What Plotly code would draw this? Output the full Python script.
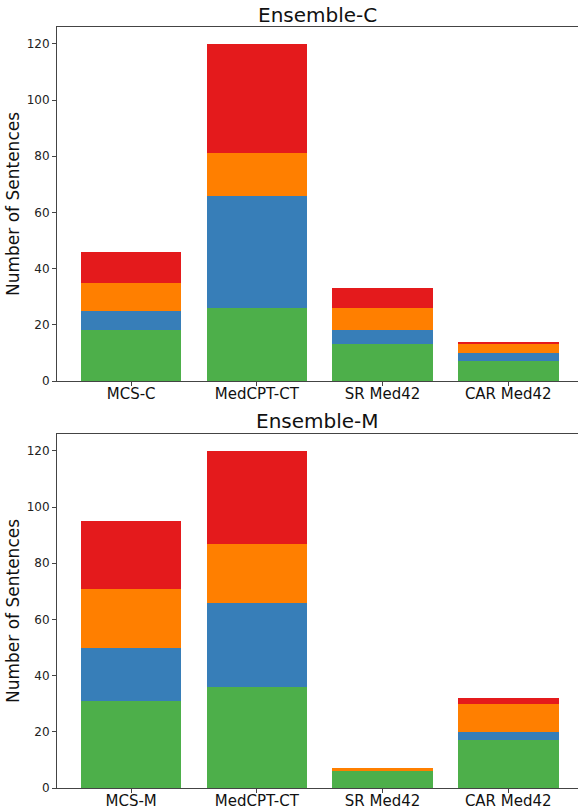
import plotly.graph_objects as go

categories_c = ["MCS-C", "MedCPT-CT", "SR Med42", "CAR Med42"]
categories_m = ["MCS-M", "MedCPT-CT", "SR Med42", "CAR Med42"]

# Ensemble-C segments (bottom to top)
green_c = [18, 26, 13, 7]
blue_c = [7, 40, 5, 3]
orange_c = [10, 15, 8, 3]
red_c = [11, 39, 7, 1]

# Ensemble-M segments (bottom to top)
green_m = [31, 36, 6, 17]
blue_m = [19, 30, 0, 3]
orange_m = [21, 21, 1, 10]
red_m = [24, 33, 0, 2]

y_ticks = [0, 20, 40, 60, 80, 100, 120]

colors = {"green": "#4daf4a", "blue": "#377eb8", "orange": "#ff7f00", "red": "#e41a1c"}

fig = go.Figure()

def add_stack(cats, series, xa, ya):
    xs = list(range(len(cats)))
    for name, vals in series:
        fig.add_trace(go.Bar(
            x=xs, y=vals, name=name, xaxis=xa, yaxis=ya,
            marker=dict(color=colors[name], line=dict(width=0)),
            width=0.8, showlegend=False,
        ))

add_stack(categories_c, [("green", green_c), ("blue", blue_c), ("orange", orange_c), ("red", red_c)], "x", "y")
add_stack(categories_m, [("green", green_m), ("blue", blue_m), ("orange", orange_m), ("red", red_m)], "x2", "y2")

H = 807
font = "DejaVu Sans"
axis_common_x = dict(
    range=[-0.59, 3.555], showgrid=False, zeroline=False, automargin=False,
    showline=True, linecolor="#444", linewidth=1, mirror=True,
    ticks="outside", ticklen=4, tickcolor="#444",
    tickfont=dict(family=font, size=15, color="#111"),
    tickvals=[0, 1, 2, 3], ticklabelstandoff=-5,
)
axis_common_y = dict(
    range=[0, 126], showgrid=False, zeroline=False, automargin=False,
    showline=True, linecolor="#444", linewidth=1,
    ticks="outside", ticklen=4, tickcolor="#444",
    tickfont=dict(family=font, size=12, color="#222"),
    tickvals=y_ticks,
    title=dict(text="Number of Sentences", font=dict(family=font, size=17, color="#111"), standoff=2),
)

fig.update_layout(
    width=578, height=H,
    margin=dict(l=57, r=0, t=0, b=0, autoexpand=False),
    paper_bgcolor="white", plot_bgcolor="white",
    barmode="stack", bargap=0.2,
    font=dict(family=font),
    xaxis=dict(**axis_common_x, ticktext=categories_c, domain=[0, 1], anchor="y"),
    yaxis=dict(**axis_common_y, domain=[1 - 381 / H, 1 - 27 / H], anchor="x"),
    xaxis2=dict(**axis_common_x, ticktext=categories_m, domain=[0, 1], anchor="y2"),
    yaxis2=dict(**axis_common_y, domain=[1 - 788 / H, 1 - 434 / H], anchor="x2"),
    annotations=[
        dict(text="Ensemble-C", x=0.5, y=1 - 15 / H, xref="paper", yref="paper",
             xanchor="center", yanchor="middle", showarrow=False,
             font=dict(family=font, size=20, color="#111")),
        dict(text="Ensemble-M", x=0.5, y=1 - 421 / H, xref="paper", yref="paper",
             xanchor="center", yanchor="middle", showarrow=False,
             font=dict(family=font, size=20, color="#111")),
    ],
)

fig.write_html(
    "out.html",
    config={"displayModeBar": False},
    post_script="document.body.style.margin='0';document.body.style.overflow='hidden';",
)
